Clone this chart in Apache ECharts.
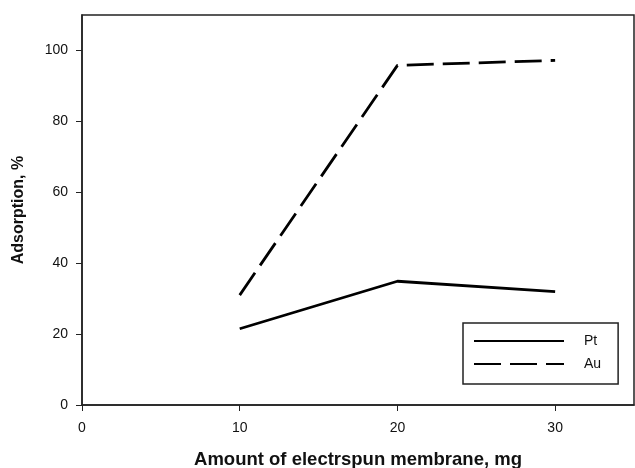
<!DOCTYPE html>
<html><head><meta charset="utf-8">
<script src="https://cdn.jsdelivr.net/npm/echarts@6/dist/echarts.min.js"></script>
<style>html,body{margin:0;padding:0;background:#fff}#c{width:635px;height:468px}</style>
</head><body><div id="c"></div>
<script>
const xValues = [10, 20, 30];
const ptValues = [21.5, 34.9, 32.0];
const auValues = [31.0, 95.8, 97.2];
const yTicks = [0, 20, 40, 60, 80, 100];
const xTicks = [0, 10, 20, 30];

const chart = echarts.init(document.getElementById('c'));
const font = 'Liberation Sans, Arial, sans-serif';
chart.setOption({
  animation: false,
  grid: { left: 82, right: 1, top: 15, bottom: 63, outerBoundsMode: 'none', containLabel: false,
    show: true, borderColor: '#222', borderWidth: 1.5, backgroundColor: 'transparent' },
  legend: {
    orient: 'vertical', left: 463, top: 323,
    itemWidth: 90, itemHeight: 14, itemGap: 9,
    padding: [11, 17, 13, 10],
    borderColor: '#222', borderWidth: 1.5,
    itemStyle: { opacity: 0 },
    textStyle: { fontFamily: font, fontSize: 14, color: '#111', padding: [0, 0, 0, 15] },
    data: ['Pt', 'Au']
  },
  xAxis: {
    type: 'value', min: 0, max: 35, interval: 10,
    name: 'Amount of electrspun membrane, mg', nameLocation: 'middle', nameGap: 45,
    nameTextStyle: { fontFamily: font, fontSize: 18.5, fontWeight: 'bold', color: '#111' },
    axisLine: { show: true, lineStyle: { color: '#222', width: 1.5 } },
    axisTick: { show: true, length: 6, customValues: xTicks, lineStyle: { color: '#222' } },
    axisLabel: { fontFamily: font, fontSize: 14, color: '#111', margin: 16, customValues: xTicks },
    splitLine: { show: false }
  },
  yAxis: {
    type: 'value', min: 0, max: 110, interval: 20,
    name: 'Adsorption, %', nameLocation: 'middle', nameGap: 55,
    nameTextStyle: { fontFamily: font, fontSize: 16, fontWeight: 'bold', color: '#111' },
    axisLine: { show: true, lineStyle: { color: '#222', width: 1.5 } },
    axisTick: { show: true, length: 6, customValues: yTicks, lineStyle: { color: '#222' } },
    axisLabel: { fontFamily: font, fontSize: 14, color: '#111', margin: 14, customValues: yTicks },
    splitLine: { show: false }
  },
  series: [
    { name: 'Pt', type: 'line', symbol: 'none', data: xValues.map((x, i) => [x, ptValues[i]]),
      lineStyle: { color: '#000', width: 2.8, type: 'solid' }, itemStyle: { color: '#000' } },
    { name: 'Au', type: 'line', symbol: 'none', data: xValues.map((x, i) => [x, auValues[i]]),
      lineStyle: { color: '#000', width: 2.8, type: [27, 9] }, itemStyle: { color: '#000' } }
  ]
});
</script></body></html>
